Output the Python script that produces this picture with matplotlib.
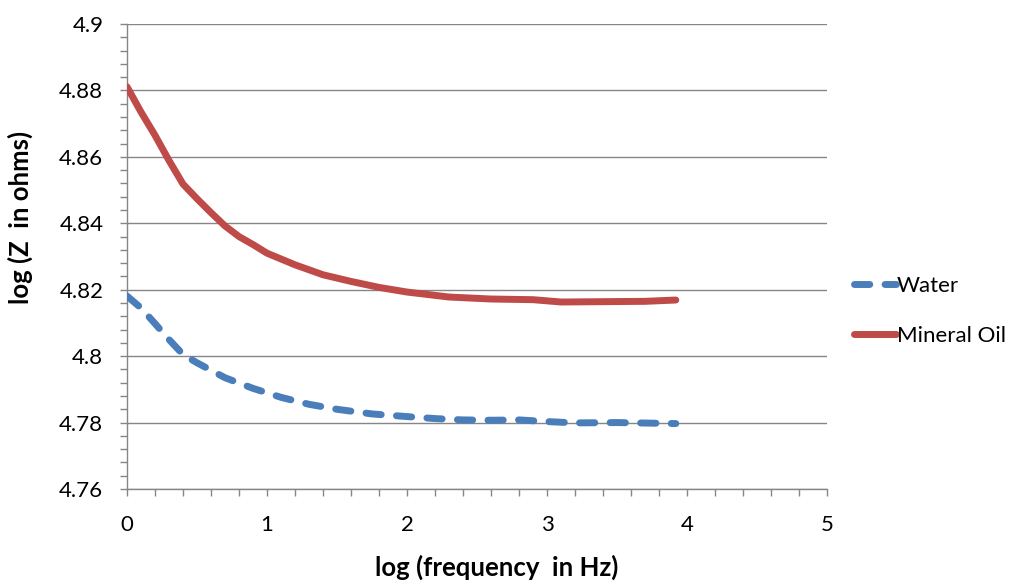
import matplotlib
matplotlib.use("Agg")
import matplotlib.pyplot as plt
from matplotlib.ticker import MultipleLocator

plt.rcParams['font.family'] = ['Lato', 'DejaVu Sans']

# Data (log10 frequency, log10 impedance)
water_x = [0, 0.1, 0.2, 0.3, 0.4, 0.5, 0.7, 0.9, 1.1, 1.3, 1.5, 1.75, 2.0,
           2.2, 2.4, 2.6, 2.8, 3.0, 3.2, 3.5, 3.92]
water_y = [4.8181, 4.8145, 4.8098, 4.8050, 4.8005, 4.7980, 4.7935, 4.7903,
           4.7876, 4.7855, 4.7840, 4.7826, 4.7818, 4.7812, 4.7808, 4.7807,
           4.7808, 4.7803, 4.7799, 4.7800, 4.7797]

oil_x = [0, 0.1, 0.2, 0.3, 0.4, 0.5, 0.6, 0.7, 0.8, 0.9, 1.0, 1.2, 1.4, 1.6,
         1.8, 2.0, 2.3, 2.6, 2.9, 3.1, 3.4, 3.7, 3.92]
oil_y = [4.8811, 4.8735, 4.8665, 4.8589, 4.8518, 4.8474, 4.8432, 4.8392,
         4.8360, 4.8336, 4.8310, 4.8275, 4.8245, 4.8225, 4.8207, 4.8193,
         4.8178, 4.8172, 4.8170, 4.8163, 4.8164, 4.8165, 4.8169]

x_ticks = [0, 1, 2, 3, 4, 5]
y_ticks = [4.76, 4.78, 4.80, 4.82, 4.84, 4.86, 4.88, 4.90]
y_tick_labels = ['4.76', '4.78', '4.8', '4.82', '4.84', '4.86', '4.88', '4.9']

W, H = 1011, 583
fig = plt.figure(figsize=(W / 100, H / 100), dpi=100)
ax = fig.add_axes([127 / W, 1 - 489 / H, 700 / W, 465 / H])

grid_c = '#868686'
ax.plot(water_x, water_y, color='#4A7EBB', lw=5, dashes=(2.2, 2.2),
        dash_capstyle='round', solid_capstyle='round', label='Water', zorder=3)
ax.plot(oil_x, oil_y, color='#BE4B48', lw=5, solid_capstyle='round',
        solid_joinstyle='round', label='Mineral Oil', zorder=3)

ax.set_xlim(0, 5)
ax.set_ylim(4.76, 4.90)
ax.set_xticks(x_ticks)
ax.set_xticklabels([str(v) for v in x_ticks])
ax.set_yticks(y_ticks)
ax.set_yticklabels(y_tick_labels)
ax.xaxis.set_minor_locator(MultipleLocator(0.2))
ax.yaxis.set_minor_locator(MultipleLocator(0.004))

ax.grid(axis='y', which='major', color=grid_c, lw=1.0, zorder=0)
for s in ['top', 'right']:
    ax.spines[s].set_visible(False)
for s in ['left', 'bottom']:
    ax.spines[s].set_color(grid_c)
    ax.spines[s].set_linewidth(1.0)

ax.tick_params(which='both', direction='out', color=grid_c, width=1.0,
               length=5, labelsize=16, labelcolor='black')
ax.tick_params(axis='y', pad=12)
ax.tick_params(axis='x', pad=14)

fig.text(497 / W, 1 - 567 / H, 'log (frequency  in Hz)', fontsize=18.5,
         fontweight='bold', ha='center', va='center')
fig.text(20 / W, 1 - 217 / H, 'log (Z  in ohms)', fontsize=18.5,
         fontweight='bold', ha='center', va='center', rotation=90)

leg = ax.legend(loc='center left', bbox_to_anchor=(1.0, 0.383), frameon=False,
                fontsize=16, handlelength=1.9, handletextpad=0.05,
                labelspacing=1.35, borderaxespad=0.8)

fig.savefig('out.png', dpi=100)
